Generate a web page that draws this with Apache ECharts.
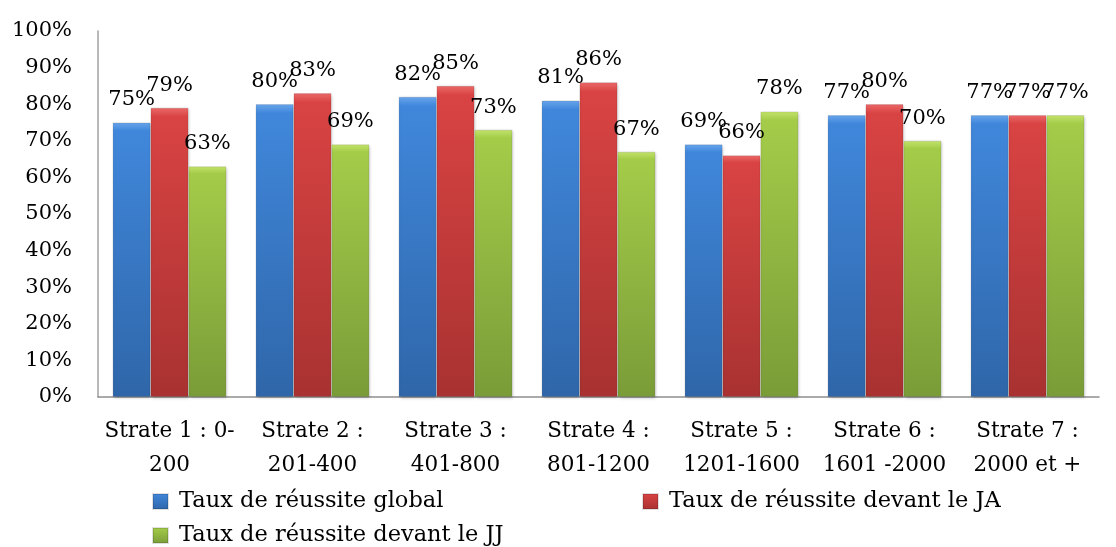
<!DOCTYPE html>
<html>
<head>
<meta charset="utf-8">
<script src="https://cdn.jsdelivr.net/npm/echarts@6/dist/echarts.min.js"></script>
<style>
  html, body { margin: 0; padding: 0; background: #fff; }
  #chart { width: 1116px; height: 547px; }
</style>
</head>
<body>
<div id="chart"></div>
<script>
// Success rates by stratum (percent)
const categories = [
  'Strate 1 : 0-\n200',
  'Strate 2 :\n201-400',
  'Strate 3 :\n401-800',
  'Strate 4 :\n801-1200',
  'Strate 5 :\n1201-1600',
  'Strate 6 :\n1601 -2000',
  'Strate 7 :\n2000 et +'
];
const seriesNames = [
  'Taux de réussite global',
  'Taux de réussite devant le JA',
  'Taux de réussite devant le JJ'
];
const tauxGlobal = [75, 80, 82, 81, 69, 77, 77];
const tauxJA = [79, 83, 85, 86, 66, 80, 77];
const tauxJJ = [63, 69, 73, 67, 78, 70, 77];
const yTicks = [0, 10, 20, 30, 40, 50, 60, 70, 80, 90, 100];

const FONT = 'DejaVu Serif';

function grad(top, mid, bottom) {
  return new echarts.graphic.LinearGradient(0, 0, 0, 1, [
    { offset: 0, color: top },
    { offset: 0.03, color: mid },
    { offset: 1, color: bottom }
  ]);
}

const palettes = [
  { top: '#6aa6ec', mid: '#4087db', bottom: '#2f66a9' },
  { top: '#ec6a6a', mid: '#d94343', bottom: '#a83231' },
  { top: '#c4e46c', mid: '#a4cc49', bottom: '#7a9c38' }
];

const dataSets = [tauxGlobal, tauxJA, tauxJJ];

const series = dataSets.map((values, i) => ({
  name: seriesNames[i],
  type: 'bar',
  data: values,
  barGap: '0%',
  barCategoryGap: '20.5%',
  itemStyle: {
    color: grad(palettes[i].top, palettes[i].mid, palettes[i].bottom),
    borderColor: 'rgba(0,0,0,0.12)',
    borderWidth: 0.8,
    shadowColor: 'rgba(0,0,0,0.25)',
    shadowBlur: 3,
    shadowOffsetX: 1,
    shadowOffsetY: 1
  },
  label: {
    show: true,
    position: 'top',
    distance: 12,
    formatter: p => p.value + '%',
    fontFamily: FONT,
    fontSize: 21,
    color: '#000'
  },
  emphasis: { disabled: true }
}));

// Legend entries laid out in two rows
const legendPos = [
  { left: 147, top: 485 },
  { left: 637, top: 485 },
  { left: 147, top: 519 }
];
const legends = seriesNames.map((n, i) => ({
  data: [{ name: n, itemStyle: { color: grad(palettes[i].top, palettes[i].mid, palettes[i].bottom) } }],
  left: legendPos[i].left,
  top: legendPos[i].top,
  icon: 'rect',
  itemWidth: 15,
  itemHeight: 15,
  itemGap: 0,
  selectedMode: false,
  textStyle: { fontFamily: FONT, fontSize: 22.5, color: '#000', padding: [0, 0, 0, 6] }
}));

const chart = echarts.init(document.getElementById('chart'), null, { renderer: 'canvas' });
chart.setOption({
  animation: false,
  backgroundColor: '#fff',
  grid: { left: 98, right: 17, top: 31, bottom: 150, containLabel: false },
  legend: legends,
  xAxis: {
    type: 'category',
    data: categories,
    axisLine: { show: true, lineStyle: { color: '#8e8e8e', width: 1.5 } },
    axisTick: { show: false },
    axisLabel: {
      fontFamily: FONT,
      fontSize: 21.5,
      color: '#000',
      lineHeight: 34,
      margin: 17,
      interval: 0
    }
  },
  yAxis: {
    type: 'value',
    min: yTicks[0],
    max: yTicks[yTicks.length - 1],
    interval: yTicks[1] - yTicks[0],
    splitLine: { show: false },
    axisLine: { show: true, lineStyle: { color: '#a0a0a0', width: 1.5 } },
    axisTick: { show: false },
    axisLabel: {
      fontFamily: FONT,
      fontSize: 21,
      color: '#000',
      margin: 26,
      formatter: v => v + '%'
    }
  },
  series: series
});
</script>
</body>
</html>
